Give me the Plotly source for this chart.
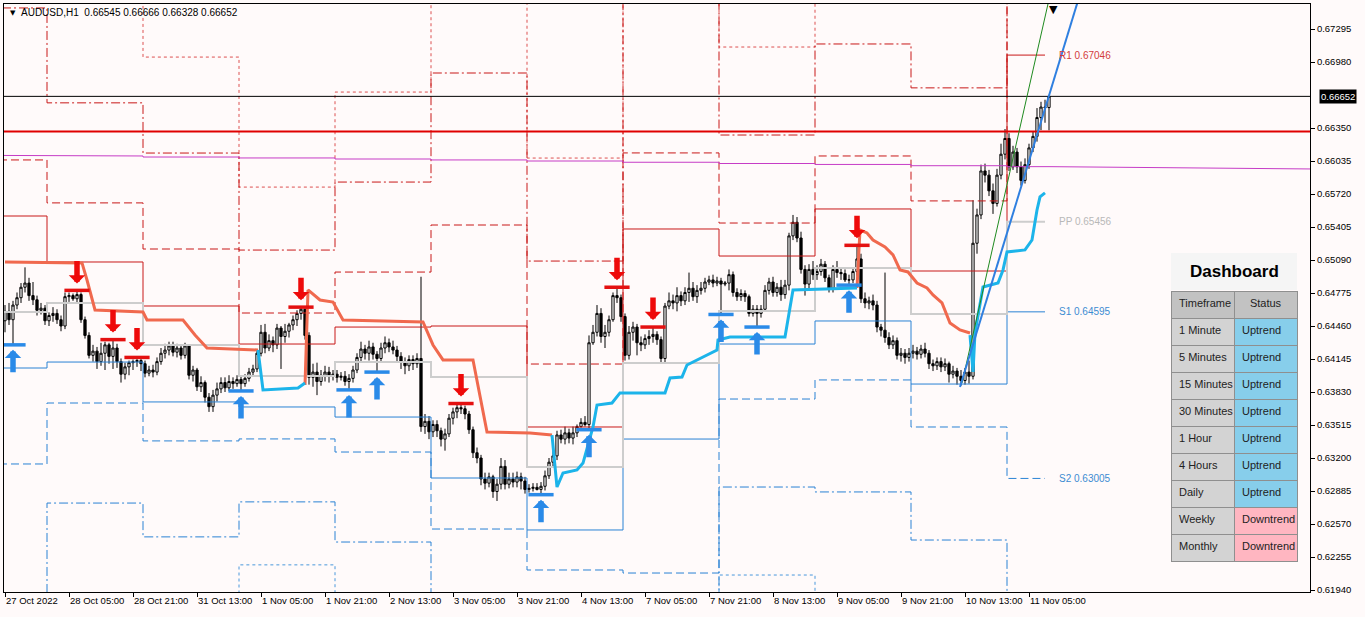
import plotly.graph_objects as go

# ---------------- data ----------------
SYMBOL = "AUDUSD,H1"
PIP = 1e-4  # prices below are stored in pips (0.0001)

OPEN_P = [
    6451, 6460, 6452, 6466, 6473, 6483, 6487, 6475, 6471, 6461,
    6463, 6451, 6456, 6458, 6452, 6446, 6474, 6475, 6472, 6476,
    6452, 6437, 6418, 6422, 6412, 6420, 6428, 6417, 6425, 6412,
    6400, 6407, 6411, 6412, 6413, 6410, 6401, 6404, 6402, 6412,
    6420, 6423, 6427, 6421, 6425, 6418, 6427, 6399, 6404, 6388,
    6392, 6378, 6369, 6380, 6386, 6392, 6387, 6393, 6391, 6395,
    6391, 6396, 6402, 6405, 6420, 6440, 6425, 6432, 6428, 6444,
    6436, 6441, 6447, 6452, 6458, 6462, 6437, 6397, 6402, 6393,
    6399, 6402, 6398, 6400, 6397, 6398, 6393, 6396, 6404, 6416,
    6424, 6420, 6426, 6419, 6415, 6425, 6430, 6426, 6423, 6417,
    6412, 6408, 6414, 6410, 6415, 6350, 6355, 6345, 6352, 6346,
    6338, 6343, 6358, 6364, 6368, 6367, 6362, 6347, 6325, 6320,
    6300, 6296, 6302, 6288, 6295, 6312, 6295, 6300, 6297, 6302,
    6298, 6290, 6291, 6292, 6290, 6293, 6303, 6316, 6322, 6342,
    6338, 6344, 6339, 6344, 6350, 6354, 6352, 6430, 6440, 6458,
    6436, 6440, 6452, 6475, 6473, 6455, 6418, 6440, 6445, 6430,
    6428, 6434, 6436, 6438, 6433, 6415, 6465, 6470, 6468, 6475,
    6470, 6478, 6482, 6474, 6480, 6482, 6488, 6490, 6487, 6489,
    6486, 6487, 6495, 6478, 6474, 6477, 6474, 6458, 6462, 6458,
    6462, 6480, 6488, 6478, 6483, 6476, 6485, 6532, 6545, 6530,
    6500, 6486, 6500, 6495, 6498, 6505, 6492, 6482, 6500, 6497,
    6496, 6490, 6490, 6498, 6510, 6472, 6468, 6470, 6466, 6445,
    6442, 6435, 6428, 6432, 6418, 6420, 6416, 6420, 6422, 6419,
    6424, 6420, 6410, 6408, 6412, 6407, 6410, 6400, 6403, 6398,
    6394, 6402, 6398, 6525, 6552, 6594, 6590, 6575, 6563, 6590,
    6610, 6625, 6598, 6612, 6598, 6585, 6600, 6616, 6627, 6645,
    6655, 6654.5,
]
HIGH_P = [
    6466, 6468, 6470, 6478, 6487, 6502, 6492, 6488, 6475, 6468,
    6466, 6459, 6464, 6462, 6456, 6478, 6478, 6477, 6480, 6478,
    6455, 6440, 6428, 6426, 6430, 6431, 6430, 6433, 6429, 6415,
    6411, 6413, 6414, 6416, 6415, 6413, 6408, 6409, 6416, 6425,
    6429, 6431, 6431, 6429, 6428, 6430, 6428, 6408, 6406, 6398,
    6394, 6382, 6385, 6392, 6397, 6397, 6399, 6397, 6399, 6398,
    6400, 6406, 6409, 6424, 6447, 6448, 6438, 6436, 6448, 6446,
    6448, 6449, 6456, 6461, 6464, 6463, 6440, 6410, 6411, 6404,
    6408, 6407, 6404, 6404, 6402, 6403, 6400, 6408, 6420, 6431,
    6428, 6432, 6430, 6422, 6430, 6436, 6434, 6432, 6427, 6421,
    6416, 6418, 6418, 6420, 6493, 6362, 6360, 6356, 6356, 6349,
    6348, 6362, 6368, 6371, 6372, 6370, 6365, 6350, 6330, 6323,
    6306, 6306, 6304, 6300, 6320, 6318, 6306, 6306, 6307, 6306,
    6302, 6295, 6296, 6296, 6297, 6308, 6320, 6328, 6346, 6347,
    6350, 6348, 6350, 6352, 6358, 6360, 6437, 6447, 6466, 6463,
    6447, 6456, 6478, 6483, 6476, 6458, 6446, 6450, 6448, 6436,
    6438, 6442, 6445, 6441, 6436, 6468, 6478, 6476, 6483, 6479,
    6483, 6497, 6488, 6485, 6488, 6492, 6494, 6495, 6493, 6492,
    6489, 6500, 6498, 6482, 6481, 6480, 6476, 6466, 6466, 6466,
    6485, 6492, 6493, 6487, 6490, 6490, 6535, 6552, 6550, 6536,
    6504, 6505, 6508, 6504, 6510, 6508, 6495, 6504, 6508, 6502,
    6500, 6495, 6502, 6523, 6515, 6478, 6474, 6476, 6470, 6448,
    6497, 6440, 6437, 6435, 6425, 6424, 6425, 6428, 6426, 6428,
    6430, 6423, 6414, 6416, 6416, 6415, 6412, 6408, 6406, 6404,
    6406, 6413, 6566, 6558, 6600, 6601, 6595, 6582, 6596, 6620,
    6634, 6630, 6618, 6616, 6603, 6606, 6620, 6632, 6654, 6660,
    6662, 6666.6,
]
LOW_P = [
    6440, 6447, 6428, 6462, 6468, 6478, 6470, 6466, 6456, 6457,
    6447, 6446, 6450, 6448, 6441, 6443, 6469, 6470, 6468, 6449,
    6434, 6415, 6412, 6405, 6408, 6404, 6410, 6405, 6406, 6392,
    6395, 6399, 6404, 6407, 6403, 6397, 6398, 6397, 6399, 6409,
    6415, 6418, 6417, 6416, 6414, 6415, 6395, 6393, 6384, 6383,
    6373, 6364, 6364, 6374, 6382, 6383, 6384, 6386, 6388, 6384,
    6388, 6393, 6398, 6402, 6417, 6420, 6422, 6421, 6424, 6405,
    6430, 6435, 6442, 6446, 6452, 6433, 6390, 6388, 6380, 6389,
    6393, 6392, 6394, 6392, 6394, 6389, 6385, 6392, 6401, 6412,
    6414, 6413, 6414, 6402, 6412, 6420, 6421, 6419, 6411, 6405,
    6400, 6403, 6404, 6406, 6345, 6343, 6338, 6340, 6340, 6331,
    6327, 6340, 6352, 6358, 6362, 6357, 6343, 6320, 6315, 6294,
    6290, 6292, 6282, 6279, 6290, 6290, 6291, 6292, 6292, 6290,
    6286, 6287, 6288, 6289, 6285, 6289, 6300, 6312, 6318, 6334,
    6333, 6334, 6333, 6340, 6349, 6350, 6347, 6428, 6436, 6430,
    6425, 6436, 6450, 6468, 6450, 6413, 6414, 6432, 6418, 6422,
    6424, 6428, 6430, 6428, 6410, 6410, 6462, 6462, 6460, 6465,
    6466, 6469, 6470, 6468, 6476, 6478, 6485, 6483, 6484, 6457,
    6484, 6480, 6474, 6470, 6470, 6469, 6455, 6455, 6445, 6454,
    6460, 6476, 6474, 6474, 6470, 6472, 6480, 6528, 6526, 6496,
    6475, 6482, 6490, 6490, 6494, 6488, 6478, 6478, 6492, 6490,
    6488, 6485, 6487, 6494, 6468, 6463, 6462, 6461, 6440, 6436,
    6430, 6424, 6424, 6414, 6412, 6410, 6412, 6415, 6414, 6415,
    6416, 6405, 6403, 6404, 6402, 6403, 6392, 6396, 6390, 6389,
    6390, 6391, 6395, 6515, 6548, 6583, 6570, 6553, 6560, 6586,
    6605, 6594, 6595, 6592, 6580, 6582, 6596, 6612, 6622, 6633,
    6640, 6632.8,
]
CLOSE_P = [
    6460, 6452, 6466, 6473, 6483, 6487, 6475, 6471, 6461, 6463,
    6451, 6456, 6458, 6452, 6446, 6474, 6475, 6472, 6476, 6452,
    6437, 6418, 6422, 6412, 6420, 6428, 6417, 6425, 6412, 6400,
    6407, 6411, 6412, 6413, 6410, 6401, 6404, 6402, 6412, 6420,
    6423, 6427, 6421, 6425, 6418, 6427, 6399, 6404, 6388, 6392,
    6378, 6369, 6380, 6386, 6392, 6387, 6393, 6391, 6395, 6391,
    6396, 6402, 6405, 6420, 6440, 6425, 6432, 6428, 6444, 6436,
    6441, 6447, 6452, 6458, 6462, 6437, 6397, 6402, 6393, 6399,
    6402, 6398, 6400, 6397, 6398, 6393, 6396, 6404, 6416, 6424,
    6420, 6426, 6419, 6415, 6425, 6430, 6426, 6423, 6417, 6412,
    6408, 6414, 6410, 6415, 6350, 6355, 6345, 6352, 6346, 6338,
    6343, 6358, 6364, 6368, 6367, 6362, 6347, 6325, 6320, 6300,
    6296, 6302, 6288, 6295, 6312, 6295, 6300, 6297, 6302, 6298,
    6290, 6291, 6292, 6290, 6293, 6303, 6316, 6322, 6342, 6338,
    6344, 6339, 6344, 6350, 6354, 6352, 6430, 6440, 6458, 6436,
    6440, 6452, 6475, 6473, 6455, 6418, 6440, 6445, 6430, 6428,
    6434, 6436, 6438, 6433, 6415, 6465, 6470, 6468, 6475, 6470,
    6478, 6482, 6474, 6480, 6482, 6488, 6490, 6487, 6489, 6486,
    6487, 6495, 6478, 6474, 6477, 6474, 6458, 6462, 6458, 6462,
    6480, 6488, 6478, 6483, 6476, 6485, 6532, 6545, 6530, 6500,
    6486, 6500, 6495, 6498, 6505, 6492, 6482, 6500, 6497, 6496,
    6490, 6490, 6498, 6510, 6472, 6468, 6470, 6466, 6445, 6442,
    6435, 6428, 6432, 6418, 6420, 6416, 6420, 6422, 6419, 6424,
    6420, 6410, 6408, 6412, 6407, 6410, 6400, 6403, 6398, 6394,
    6402, 6398, 6525, 6552, 6594, 6590, 6575, 6563, 6590, 6610,
    6625, 6598, 6612, 6598, 6585, 6600, 6616, 6627, 6645, 6655,
    6654.5, 6665.2,
]

X_LABEL_BARS = [0, 16, 32, 48, 64, 80, 96, 112, 128, 144, 160, 176, 192, 208, 224, 240, 256]
X_LABELS = ["27 Oct 2022", "28 Oct 05:00", "28 Oct 21:00", "31 Oct 13:00", "1 Nov 05:00",
            "1 Nov 21:00", "2 Nov 13:00", "3 Nov 05:00", "3 Nov 21:00", "4 Nov 13:00",
            "7 Nov 05:00", "7 Nov 21:00", "8 Nov 13:00", "9 Nov 05:00", "9 Nov 21:00",
            "10 Nov 13:00", "11 Nov 05:00"]
Y_TICKS = [0.61940, 0.62255, 0.62570, 0.62885, 0.63200, 0.63515, 0.63830, 0.64145, 0.64460,
           0.64775, 0.65090, 0.65405, 0.65720, 0.66035, 0.66350, 0.66980, 0.67295]
Y_RANGE = [0.619209, 0.675336]
X_RANGE = [-0.25, 326.25]

# daily pivot levels (one value per day), day start bars
DAY_START = [-13, 11, 35, 59, 83, 107, 131, 155, 179, 203, 227, 251]
PIVOT_END_BAR = 260
PP = [0.64594, 0.64680, 0.64279, 0.63983, 0.64116, 0.63973, 0.63114, 0.64107, 0.64603, 0.65014, 0.64575, 0.65456]
R1 = [0.65510, 0.65071, 0.64651, 0.64288, 0.64450, 0.64460, 0.63496, 0.65386, 0.65128, 0.65577, 0.64985, 0.67046]
R2 = [0.66045, 0.65635, 0.65195, 0.64584, 0.64975, 0.65424, 0.64097, 0.66112, 0.65443, 0.66083, 0.65654, 0.67907]
R3 = [0.67496, 0.66590, 0.66111, 0.65185, 0.65834, 0.66875, 0.65080, 0.68117, 0.66283, 0.67152, 0.66733, 0.70358]
R4 = [0.68947, 0.67545, 0.67027, 0.65786, 0.66693, 0.68326, 0.66063, 0.70122, 0.67123, 0.68221, 0.67812, 0.72809]
S1 = [0.64059, 0.64116, 0.63735, 0.63687, 0.63591, 0.63009, 0.62513, 0.63381, 0.64288, 0.64508, 0.63906, 0.64595]
S2 = [0.63143, 0.63725, 0.63363, 0.63382, 0.63257, 0.62522, 0.62131, 0.62102, 0.63763, 0.63945, 0.63496, 0.63005]
S3 = [0.61692, 0.62770, 0.62447, 0.62781, 0.62398, 0.61071, 0.61148, 0.60097, 0.62923, 0.62876, 0.62417, 0.60554]
S4 = [0.60241, 0.61815, 0.61531, 0.62180, 0.61539, 0.59620, 0.60165, 0.58092, 0.62083, 0.61807, 0.61338, 0.58103]

# slow moving average (per day) and its right-edge value
MA_DAY_P = [6609.0, 6608.3, 6607.3, 6606.4, 6605.4, 6604.5, 6603.5, 6602.3, 6601.1, 6600.2, 6599.0, 6598.1]
MA_END_BAR = 326.25
MA_END_P = 6595.9

PREV_DAY_HIGH = 0.66317

# trailing-stop line (down = orange, up = cyan); None separates segments
ST_DOWN_BARS = [0, 19.25, 20.5, 22.5, 34.5, 35.5, 44.5, 47.5, 50.5, 63.25, None,
                75, 75.75, 78.75, 82, 84.5, 104.5, 107, 109.5, 117, 120.5, 131.25, 136.75, None,
                213, 213.75, 215.5, 217, 220, 222, 223.75, 225.75, 228, 230.5, 232, 234.25, 236.25, 238.75, 241.25]
ST_DOWN_P = [6507.1, 6506.2, 6489.9, 6461.3, 6459.4, 6451.7, 6451.7, 6437.4, 6425.0, 6423.1, None,
             6389.7, 6480.4, 6470.8, 6468.9, 6451.7, 6449.8, 6427.9, 6413.6, 6413.6, 6344.8, 6343.9, 6341.9, None,
             6482.3, 6537.6, 6534.8, 6528.1, 6521.4, 6513.8, 6499.5, 6497.6, 6487.0, 6482.3, 6475.6, 6468.0, 6448.9, 6442.2, 6439.3]
ST_UP_BARS = [63.25, 64.5, 73.25, 75, None,
              136.75, 138, 139.5, 143, 144.5, 147, 148, 151.75, 153.75, 165, 166.25, 169.25, 170.5, 173, 178,
              178.25, 181.25, 195, 197, 213, None,
              241.25, 242, 242.5, 244.5, 248.25, 249.5, 250.5, 255, 256.75, 258, 258.75, 260]
ST_UP_P = [6423.1, 6384.9, 6386.8, 6391.6, None,
           6341.9, 6292.3, 6305.7, 6308.6, 6315.2, 6349.6, 6370.6, 6372.5, 6382.1, 6382.1, 6396.4, 6397.3, 6408.8, 6413.6, 6423.1,
           6432.7, 6435.5, 6435.5, 6480.4, 6482.3, None,
           6437.4, 6402.1, 6439.3, 6483.2, 6487.0, 6499.5, 6516.7, 6518.6, 6528.1, 6556.7, 6569.2, 6573.0]

# trend lines (two anchor points each)
TL_BLUE_BARS = [238.75, 270]
TL_BLUE_PRICES = [0.63878, 0.67784]
TL_GREEN_BARS = [239.25, 263]
TL_GREEN_PRICES = [0.63916, 0.67913]

# fractal signals
RED_ARROW_BARS = [18, 27, 33, 74, 114, 153, 162, 213]
BLUE_ARROW_BARS = [2, 59, 86, 93, 134, 146, 179, 188, 211]

# dashboard
TIMEFRAMES = ["1 Minute", "5 Minutes", "15 Minutes", "30 Minutes", "1 Hour", "4 Hours", "Daily", "Weekly", "Monthly"]
STATUS = ["Uptrend", "Uptrend", "Uptrend", "Uptrend", "Uptrend", "Uptrend", "Uptrend", "Downtrend", "Downtrend"]

# ---------------- build ----------------
FONT = "Liberation Sans, Arial, sans-serif"
W, H = 1365, 617
ML, MR, MT, MB = 4, 55, 4, 25
PW, PH = W - ML - MR, H - MT - MB


def px_x(px):
    return (px - ML) / PW


def px_y(py):
    return 1 - (py - MT) / PH


bars = list(range(len(OPEN_P)))
o = [v * PIP for v in OPEN_P]
hgh = [v * PIP for v in HIGH_P]
low = [v * PIP for v in LOW_P]
c = [v * PIP for v in CLOSE_P]

fig = go.Figure()


def day_steps(levels, end_bar):
    xs, ys = [], []
    for i, v in enumerate(levels):
        x0 = DAY_START[i] - 0.5
        x1 = DAY_START[i + 1] - 0.5 if i + 1 < len(levels) else end_bar
        xs += [x0, x1]
        ys += [v, v]
    return xs, ys


RED = "#c81818"
RED_LIGHT = "#dc5050"
BLUE = "#2a82d4"
BLUE_LIGHT = "#4a98dc"
styles = [
    (R4, RED_LIGHT, "3px,3px"), (R3, RED, "9px,3px,2px,3px"), (R2, RED, "8px,4px"), (R1, RED, "solid"),
    (S1, BLUE, "solid"), (S2, BLUE, "8px,4px"), (S3, BLUE, "9px,3px,2px,3px"), (S4, BLUE_LIGHT, "3px,3px"),
]
for lev, col, dash in styles:
    xs, ys = day_steps(lev, PIVOT_END_BAR)
    fig.add_trace(go.Scatter(x=xs, y=ys, mode="lines", line=dict(color=col, width=1, dash=dash),
                             hoverinfo="skip", showlegend=False))
xs, ys = day_steps(PP, PIVOT_END_BAR)
fig.add_trace(go.Scatter(x=xs, y=ys, mode="lines", line=dict(color="#cdcdcd", width=2),
                         hoverinfo="skip", showlegend=False))

# moving average (magenta)
mx, my = day_steps([v * PIP for v in MA_DAY_P], bars[-1])
mx.append(MA_END_BAR)
my.append(MA_END_P * PIP)
fig.add_trace(go.Scatter(x=mx, y=my, mode="lines", line=dict(color="#c63cc6", width=1),
                         hoverinfo="skip", showlegend=False))

# candles
fig.add_trace(go.Candlestick(
    x=bars, open=o, high=hgh, low=low, close=c,
    increasing=dict(line=dict(color="black", width=1), fillcolor="white"),
    decreasing=dict(line=dict(color="black", width=1), fillcolor="black"),
    whiskerwidth=0, hoverinfo="skip", showlegend=False))

# horizontal lines: previous-day high and current price
fig.add_trace(go.Scatter(x=X_RANGE, y=[PREV_DAY_HIGH] * 2, mode="lines",
                         line=dict(color="#e00000", width=2), hoverinfo="skip", showlegend=False))
fig.add_trace(go.Scatter(x=X_RANGE, y=[c[-1]] * 2, mode="lines",
                         line=dict(color="black", width=1), hoverinfo="skip", showlegend=False))

# trailing stop
fig.add_trace(go.Scatter(x=ST_DOWN_BARS, y=[None if v is None else v * PIP for v in ST_DOWN_P],
                         mode="lines", line=dict(color="#f0694e", width=3), connectgaps=False,
                         hoverinfo="skip", showlegend=False))
fig.add_trace(go.Scatter(x=ST_UP_BARS, y=[None if v is None else v * PIP for v in ST_UP_P],
                         mode="lines", line=dict(color="#1cb4ea", width=3), connectgaps=False,
                         hoverinfo="skip", showlegend=False))

# trend lines
fig.add_trace(go.Scatter(x=TL_GREEN_BARS, y=TL_GREEN_PRICES, mode="lines",
                         line=dict(color="#1f8a1f", width=1), hoverinfo="skip", showlegend=False))
fig.add_trace(go.Scatter(x=TL_BLUE_BARS, y=TL_BLUE_PRICES, mode="lines",
                         line=dict(color="#2f7fe0", width=2), hoverinfo="skip", showlegend=False))

# fractal dashes
fig.add_trace(go.Scatter(x=RED_ARROW_BARS, y=[hgh[b] for b in RED_ARROW_BARS], mode="markers",
                         marker=dict(symbol="line-ew", size=18, line=dict(color="#e41010", width=3.5)),
                         hoverinfo="skip", showlegend=False))
fig.add_trace(go.Scatter(x=BLUE_ARROW_BARS, y=[low[b] for b in BLUE_ARROW_BARS], mode="markers",
                         marker=dict(symbol="line-ew", size=18, line=dict(color="#2a8ae8", width=3.5)),
                         hoverinfo="skip", showlegend=False))

# dashboard table (non-breaking spaces keep each label on one line)
NB = "\u00a0"
fig.add_trace(go.Table(
    domain=dict(x=[px_x(1171), px_x(1297)], y=[px_y(570), px_y(291)]),
    columnwidth=[1, 1],
    header=dict(values=["Timeframe", "Status"], fill_color="#c2c2c2", line=dict(color="#8f8f8f", width=1),
                align=["left", "center"], font=dict(family=FONT, size=11, color="#222222"), height=27),
    cells=dict(values=[[t.replace(" ", NB) for t in TIMEFRAMES], STATUS],
               fill_color=[["#d3d3d3"] * len(TIMEFRAMES),
                           ["#87ceeb" if s == "Uptrend" else "#ffb6c1" for s in STATUS]],
               line=dict(color="#8f8f8f", width=1), align="left",
               font=dict(family=FONT, size=11, color="#222222"), height=27),
))

ann = []
for b in RED_ARROW_BARS:
    ann.append(dict(x=b, y=hgh[b], xref="x", yref="y", text="", showarrow=True, ax=0, ay=-31,
                    arrowhead=1, arrowsize=0.5, arrowwidth=5.5, arrowcolor="#ee0a0a", standoff=7))
for b in BLUE_ARROW_BARS:
    ann.append(dict(x=b, y=low[b], xref="x", yref="y", text="", showarrow=True, ax=0, ay=29,
                    arrowhead=1, arrowsize=0.5, arrowwidth=5.5, arrowcolor="#2a8ae8", standoff=5))

# level labels for the current day
for name, lev, col in [("R1", R1, "#d23c3c"), ("PP", PP, "#b8b8b8"), ("S1", S1, "#3c8cd2"), ("S2", S2, "#3c8cd2")]:
    ann.append(dict(x=PIVOT_END_BAR + 3, y=lev[-1], xref="x", yref="y", text=f"{name} {lev[-1]:.5f}",
                    showarrow=False, xanchor="left", yanchor="middle",
                    font=dict(family=FONT, size=10, color=col)))

# title
ann.append(dict(x=0, y=1, xref="paper", yref="paper", text="▼", showarrow=False, xanchor="left",
                yanchor="top", xshift=4, yshift=-3, font=dict(family="DejaVu Sans", size=7, color="black")))
ann.append(dict(x=0, y=1, xref="paper", yref="paper",
                text=f"{SYMBOL}  {o[-1]:.5f} {hgh[-1]:.5f} {low[-1]:.5f} {c[-1]:.5f}",
                showarrow=False, xanchor="left", yanchor="top", xshift=15, yshift=-1,
                font=dict(family=FONT, size=10, color="black")))
# chart-shift marker
ann.append(dict(x=bars[-1] + 1, y=1, xref="x", yref="paper", text="▼", showarrow=False,
                xanchor="center", yanchor="top", yshift=3,
                font=dict(family="DejaVu Sans", size=11, color="black")))
# current price box
ann.append(dict(x=1, y=c[-1], xref="paper", yref="y", text=f"{c[-1]:.5f}", showarrow=False,
                xanchor="left", yanchor="middle", xshift=9, bgcolor="black", borderpad=1,
                font=dict(family=FONT, size=9.5, color="white")))
# dashboard title
ann.append(dict(x=(px_x(1171) + px_x(1297)) / 2, y=(px_y(253) + px_y(290)) / 2, xref="paper", yref="paper",
                xanchor="center", yanchor="middle",
                text="<b>Dashboard</b>", showarrow=False, font=dict(family=FONT, size=17, color="black")))

shapes = [dict(type="rect", xref="paper", yref="paper", x0=px_x(1171), x1=px_x(1297),
               y0=px_y(290), y1=px_y(253), fillcolor="#f5f5f5", line=dict(width=0), layer="above")]

fig.update_layout(
    width=W, height=H, autosize=False,
    margin=dict(l=ML, r=MR, t=MT, b=MB, autoexpand=False),
    plot_bgcolor="#fffafa", paper_bgcolor="#fffafa",
    showlegend=False, annotations=ann, shapes=shapes, boxgap=0.2,
    font=dict(family=FONT, size=9.5, color="black"),
    xaxis=dict(range=X_RANGE, tickvals=X_LABEL_BARS, ticktext=X_LABELS, ticks="outside", ticklen=4,
               tickcolor="black", ticklabelposition="outside right", tickangle=0, automargin=False,
               showline=True, mirror=True,
               linecolor="black", linewidth=1, showgrid=False, zeroline=False,
               rangeslider=dict(visible=False), tickfont=dict(family=FONT, size=9.5, color="black")),
    yaxis=dict(range=Y_RANGE, side="right", tickvals=Y_TICKS, ticktext=[f"{v:.5f}" for v in Y_TICKS],
               ticks="outside", ticklen=4, tickcolor="black", showline=True, mirror=True, automargin=False,
               linecolor="black", linewidth=1, showgrid=False, zeroline=False,
               tickfont=dict(family=FONT, size=9.5, color="black")),
)

fig.write_html("out.html", config={"displayModeBar": False},
               post_script="document.body.style.margin='0px';document.body.style.background='#fffafa';")
